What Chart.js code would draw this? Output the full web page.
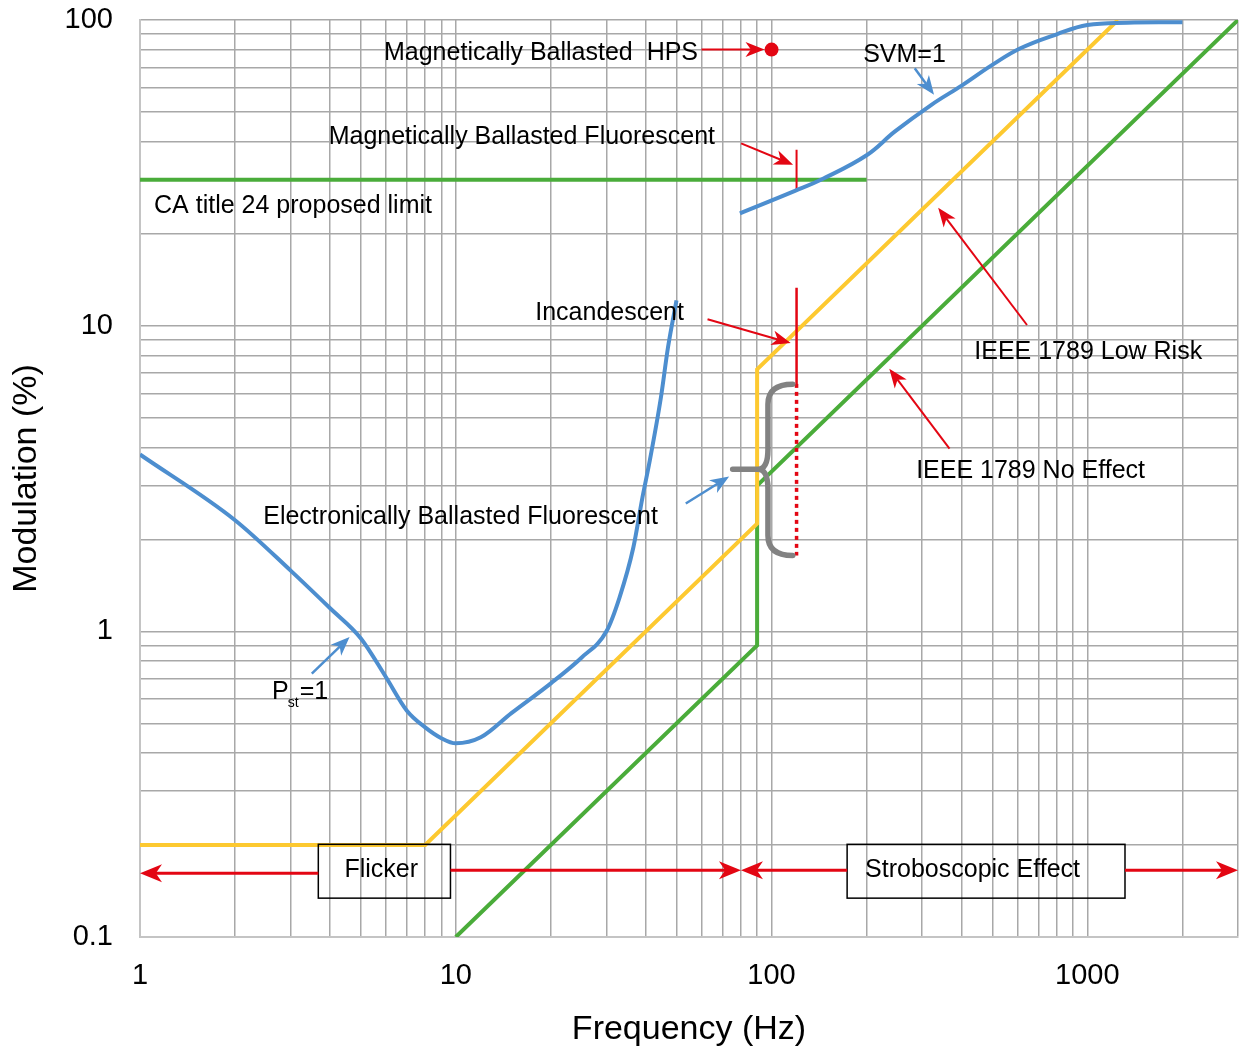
<!DOCTYPE html>
<html>
<head>
<meta charset="utf-8">
<script src="https://cdn.jsdelivr.net/npm/chart.js@4.4.1/dist/chart.umd.min.js"></script>
<style>
  html, body { margin: 0; padding: 0; background: #fff; }
  #wrap { width: 1239px; height: 1048px; }
</style>
</head>
<body>
<div id="wrap"><canvas id="chart" width="1239" height="1048"></canvas></div>
<script>
// ---- data ----
const pstFreq = [1, 2, 3, 4, 5, 6, 7, 8, 9, 10, 12, 15, 20, 25, 30, 33, 36.5, 39, 41, 44.6, 47, 50];
const pstMod  = [3.79, 2.31, 1.58, 1.19, 0.95, 0.71, 0.55, 0.485, 0.447, 0.43, 0.45, 0.54, 0.676, 0.82, 1.0, 1.29, 1.88, 2.74, 3.55, 5.8, 8.5, 12.1];

const svmFreq = [79.4, 118.6, 146, 200, 246, 320, 400, 500, 614, 800, 1000, 1340, 2000];
const svmMod  = [23.3, 27.6, 30.3, 36.1, 43.2, 52.7, 61, 71.3, 80.8, 89.8, 96.3, 98, 98.3];

const lowRiskFreq = [1, 8, 90, 90, 1250];
const lowRiskMod  = [0.2, 0.2, 2.25, 7.2, 100];

const noEffectFreq = [10, 90, 90, 3000];
const noEffectMod  = [0.1, 0.9, 3.0, 100];

const caFreq = [1, 200];
const caMod  = [30, 30];

const hpsFreq = [100];
const hpsMod  = [80];

const markerFreq = 120;
const mbfRange = [37.6, 27.6];
const incRange = [13.3, 6.45];
const ebfRange = [6.45, 1.77];

const xTickLabels = [1, 10, 100, 1000];
const yTickLabels = [0.1, 1, 10, 100];

// annotation anchors, in data units (Hz, %)
const labels = [
  { text: 'Magnetically Ballasted  HPS', f: 58.5, m: 78, align: 'right' },
  { text: 'SVM=1', f: 195, m: 76.6, align: 'left' },
  { text: 'Magnetically Ballasted Fluorescent', f: 66.2, m: 41.3, align: 'right' },
  { text: 'CA title 24 proposed limit', f: 1.108, m: 24.7, align: 'left' },
  { text: 'Incandescent', f: 52.8, m: 10.97, align: 'right' },
  { text: 'IEEE 1789 Low Risk', f: 438.5, m: 8.18, align: 'left' },
  { text: 'IEEE 1789 No Effect', f: 287, m: 3.34, align: 'left' },
  { text: 'Electronically Ballasted Fluorescent', f: 2.456, m: 2.36, align: 'left' },
  { text: 'Flicker', f: 4.44, m: 0.1653, align: 'left' },
  { text: 'Stroboscopic Effect', f: 197.8, m: 0.1653, align: 'left' }
];

const arrows = [
  { from: [60, 80], to: [95, 80], color: 'red' },
  { from: [80.1, 39.5], to: [117, 33.6], color: 'red' },
  { from: [62.7, 10.5], to: [115, 8.77], color: 'red' },
  { from: [644, 10.05], to: [337, 24.3], color: 'red' },
  { from: [366, 3.96], to: [236, 7.23], color: 'red' },
  { from: [284, 69.5], to: [327, 56.9], color: 'blue' },
  { from: [3.5, 0.727], to: [4.61, 0.958], color: 'blue' },
  { from: [53.5, 2.62], to: [73.4, 3.21], color: 'blue' },
  { from: [3.67, 0.1616], to: [1, 0.1616], color: 'red', thick: true },
  { from: [9.62, 0.1653], to: [80, 0.1653], color: 'red', thick: true },
  { from: [173.5, 0.1653], to: [80, 0.1653], color: 'red', thick: true },
  { from: [1316, 0.1653], to: [3000, 0.1653], color: 'red', thick: true }
];

const boxes = [
  { f: [3.67, 9.62], m: [0.201, 0.134] },
  { f: [173.5, 1316], m: [0.201, 0.134] }
];

const brace = { fRight: 116.7, fSpine: 97.4, fTip: 75.3, mTop: 6.43, mMid: 3.39, mBottom: 1.77 };

// ---- helpers ----
const COLORS = { red: '#e30613', blue: '#4d8ecf', yellow: '#fdc930', green: '#4aac3a', gray: '#828282', grid: '#a8a8a8' };
const FONT = '"Liberation Sans", Arial, Helvetica, sans-serif';

function toPoints(xs, ys) {
  return xs.map((v, i) => ({ x: v, y: ys[i] }));
}

function gridValues(fromExp, toExp, max) {
  const vals = [];
  for (let e = fromExp; e <= toExp; e++) {
    for (let k = 1; k <= 9; k++) {
      const v = Number((k * Math.pow(10, e)).toPrecision(4));
      if (v <= max) vals.push(v);
    }
  }
  if (!vals.includes(max)) vals.push(max);
  return vals;
}

const xGrid = gridValues(0, 3, 3000);
const yGrid = gridValues(-1, 1, 100);

// keep the plot area where the layout padding puts it
function noScalePadding(scale) {
  scale.paddingLeft = 0;
  scale.paddingRight = 0;
  scale.paddingTop = 0;
  scale.paddingBottom = 0;
}

function drawArrow(ctx, x1, y1, x2, y2, color, width, headLen, headW) {
  const ang = Math.atan2(y2 - y1, x2 - x1);
  ctx.save();
  ctx.strokeStyle = color;
  ctx.fillStyle = color;
  ctx.lineWidth = width;
  ctx.beginPath();
  ctx.moveTo(x1, y1);
  ctx.lineTo(x2 - Math.cos(ang) * headLen * 0.7, y2 - Math.sin(ang) * headLen * 0.7);
  ctx.stroke();
  ctx.translate(x2, y2);
  ctx.rotate(ang);
  ctx.beginPath();
  ctx.moveTo(0, 0);
  ctx.lineTo(-headLen, -headW / 2);
  ctx.lineTo(-headLen * 0.72, 0);
  ctx.lineTo(-headLen, headW / 2);
  ctx.closePath();
  ctx.fill();
  ctx.restore();
}

const annotationPlugin = {
  id: 'annotations',
  afterDatasetsDraw(chart) {
    const { ctx, scales } = chart;
    const px = f => scales.x.getPixelForValue(f);
    const py = m => scales.y.getPixelForValue(m);

    // boxes
    ctx.save();
    ctx.strokeStyle = '#000';
    ctx.lineWidth = 1.5;
    boxes.forEach(b => {
      const x0 = px(b.f[0]), x1 = px(b.f[1]);
      const y0 = py(b.m[0]), y1 = py(b.m[1]);
      ctx.strokeRect(x0, y0, x1 - x0, y1 - y0);
    });
    ctx.restore();

    // arrows
    arrows.forEach(a => {
      const color = a.color === 'red' ? COLORS.red : COLORS.blue;
      const w = a.thick ? 3 : (a.color === 'blue' ? 2.5 : 2);
      const hl = a.thick ? 22 : 19;
      const hw = a.thick ? 18 : 15;
      drawArrow(ctx, px(a.from[0]), py(a.from[1]), px(a.to[0]), py(a.to[1]), color, w, hl, hw);
    });

    // curly brace
    const xr = px(brace.fRight), xs = px(brace.fSpine), xt = px(brace.fTip);
    const yt = py(brace.mTop), ym = py(brace.mMid), yb = py(brace.mBottom);
    const r = 20;
    ctx.save();
    ctx.strokeStyle = COLORS.gray;
    ctx.lineWidth = 5.5;
    ctx.lineCap = 'round';
    ctx.beginPath();
    ctx.moveTo(xr, yt);
    ctx.quadraticCurveTo(xs, yt, xs, yt + r);
    ctx.lineTo(xs, ym - r);
    ctx.quadraticCurveTo(xs, ym, xs - 10, ym);
    ctx.lineTo(xt, ym);
    ctx.moveTo(xs - 10, ym);
    ctx.quadraticCurveTo(xs, ym, xs, ym + r);
    ctx.lineTo(xs, yb - r);
    ctx.quadraticCurveTo(xs, yb, xr, yb);
    ctx.stroke();
    ctx.restore();

    // text labels
    ctx.save();
    ctx.fillStyle = '#000';
    ctx.font = '25px ' + FONT;
    ctx.textBaseline = 'middle';
    labels.forEach(l => {
      ctx.textAlign = l.align;
      ctx.fillText(l.text, px(l.f), py(l.m));
    });
    // P_st = 1
    const x0 = px(2.62), y0 = py(0.631);
    ctx.textAlign = 'left';
    ctx.fillText('P', x0, y0);
    const pw = ctx.measureText('P').width;
    ctx.font = '14px ' + FONT;
    ctx.fillText('st', x0 + pw - 1, y0 + 11);
    const sw = ctx.measureText('st').width;
    ctx.font = '25px ' + FONT;
    ctx.fillText('=1', x0 + pw + sw, y0);
    ctx.restore();
  }
};

const lineDefaults = { showLine: true, pointRadius: 0, fill: false, tension: 0 };

new Chart(document.getElementById('chart'), {
  type: 'scatter',
  data: {
    datasets: [
      { data: toPoints(hpsFreq, hpsMod), pointRadius: 7, pointBackgroundColor: COLORS.red, pointBorderWidth: 0, showLine: false },
      { ...lineDefaults, data: toPoints(pstFreq, pstMod), borderColor: COLORS.blue, borderWidth: 4, cubicInterpolationMode: 'monotone' },
      { ...lineDefaults, data: toPoints(svmFreq, svmMod), borderColor: COLORS.blue, borderWidth: 4, tension: 0.4 },
      { ...lineDefaults, data: toPoints([markerFreq, markerFreq], mbfRange), borderColor: COLORS.red, borderWidth: 2 },
      { ...lineDefaults, data: toPoints([markerFreq, markerFreq], incRange), borderColor: COLORS.red, borderWidth: 2.5 },
      { ...lineDefaults, data: toPoints([markerFreq, markerFreq], ebfRange), borderColor: COLORS.red, borderWidth: 3.5, borderDash: [4, 4] },
      { ...lineDefaults, data: toPoints(lowRiskFreq, lowRiskMod), borderColor: COLORS.yellow, borderWidth: 4 },
      { ...lineDefaults, data: toPoints(noEffectFreq, noEffectMod), borderColor: COLORS.green, borderWidth: 4 },
      { ...lineDefaults, data: toPoints(caFreq, caMod), borderColor: COLORS.green, borderWidth: 4 }
    ]
  },
  options: {
    responsive: false,
    animation: false,
    events: [],
    layout: { autoPadding: false, padding: { top: 20, right: 1, left: 0, bottom: 0 } },
    plugins: { legend: { display: false }, tooltip: { enabled: false } },
    scales: {
      x: {
        type: 'logarithmic',
        min: 1,
        max: 3000,
        afterBuildTicks: scale => { scale.ticks = xGrid.map(v => ({ value: v })); },
        afterFit: scale => { scale.height = 111; noScalePadding(scale); },
        // tick marks are invisible; their length just spaces the labels
        grid: { color: COLORS.grid, lineWidth: 1.5, drawTicks: true, tickLength: 22, tickColor: 'rgba(0,0,0,0)' },
        border: { color: '#c4c4c4', width: 2 },
        ticks: {
          autoSkip: false,
          maxRotation: 0,
          padding: 0,
          color: '#000',
          font: { family: FONT, size: 29 },
          callback: v => xTickLabels.includes(v) ? String(v) : ''
        },
        title: {
          display: true,
          text: 'Frequency (Hz)',
          color: '#000',
          font: { family: FONT, size: 34, lineHeight: 1 },
          padding: { top: 0, bottom: 1 }
        }
      },
      y: {
        type: 'logarithmic',
        min: 0.1,
        max: 100,
        afterBuildTicks: scale => { scale.ticks = yGrid.map(v => ({ value: v })); },
        afterFit: scale => { scale.width = 140; noScalePadding(scale); },
        grid: { color: COLORS.grid, lineWidth: 1.5, drawTicks: true, tickLength: 27, tickColor: 'rgba(0,0,0,0)' },
        border: { color: '#c4c4c4', width: 2 },
        ticks: {
          autoSkip: false,
          padding: 0,
          color: '#000',
          font: { family: FONT, size: 29 },
          callback: v => yTickLabels.includes(v) ? String(v) : ''
        },
        title: {
          display: true,
          text: 'Modulation (%)',
          color: '#000',
          font: { family: FONT, size: 34, lineHeight: 1 },
          padding: { top: 10, bottom: 0 }
        }
      }
    }
  },
  plugins: [annotationPlugin]
});
</script>
</body>
</html>
